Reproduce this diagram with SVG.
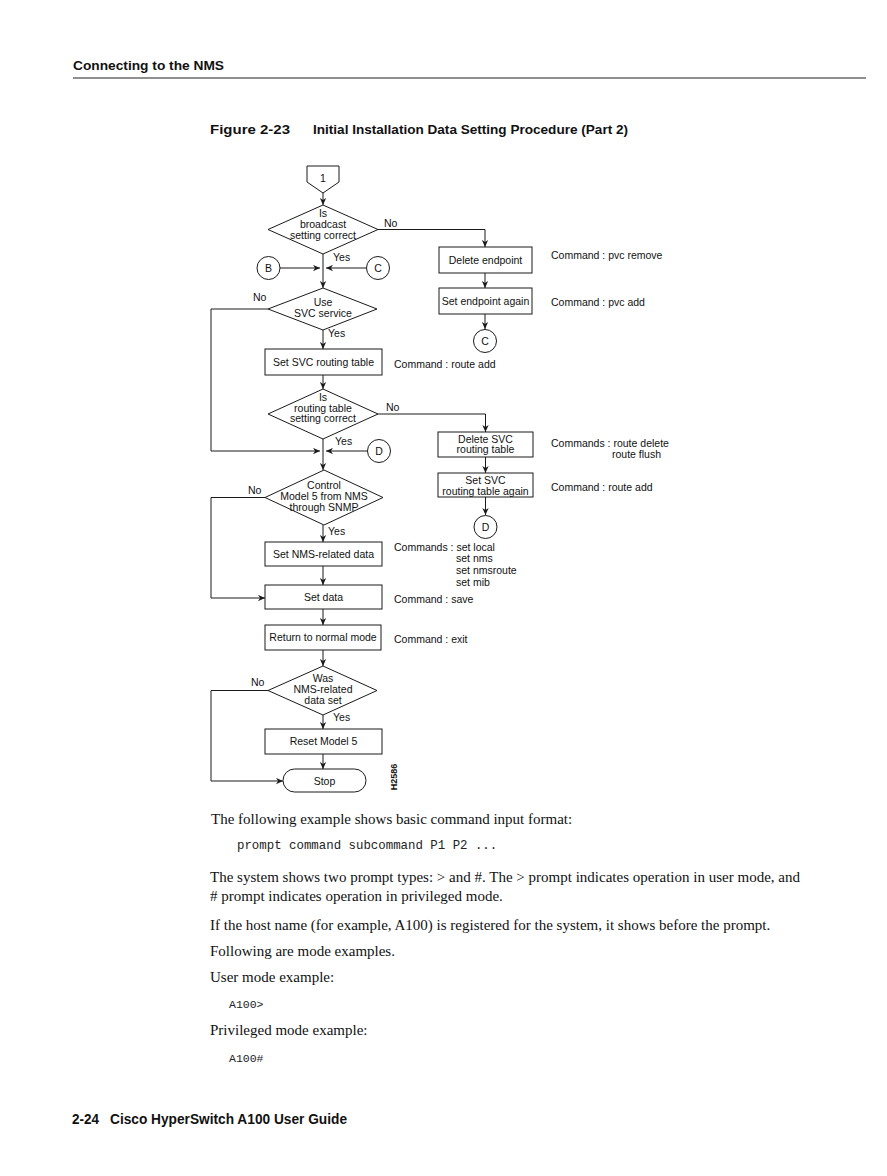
<svg xmlns="http://www.w3.org/2000/svg" width="887" height="1176" viewBox="0 0 887 1176">
<style>
.bg{fill:#ffffff}
.shape{fill:#ffffff;stroke:#1a1a1a;stroke-width:1}
.ln{fill:none;stroke:#1a1a1a;stroke-width:1}
.ft{font-family:"Liberation Sans",Arial,sans-serif;font-size:10.5px;fill:#111}
.c{text-anchor:middle}
.hd{font-family:"Liberation Sans",Arial,sans-serif;font-weight:bold;fill:#111}
.body{font-family:"Liberation Serif","Times New Roman",serif;font-size:15px;fill:#111}
.mono{font-family:"Liberation Mono","Courier New",monospace;fill:#222}
</style>
<defs>
<marker id="ah" viewBox="0 0 10 10" refX="10" refY="5" markerWidth="8" markerHeight="7" markerUnits="userSpaceOnUse" orient="auto">
<path d="M0,0.5 L10,5 L0,9.5 L3,5 Z" fill="#1a1a1a"/>
</marker>
</defs>
<rect class="bg" x="0" y="0" width="887" height="1176"/>

<g id="page-header">
<text class="hd" x="73" y="69.5" font-size="13.5" textLength="151" lengthAdjust="spacingAndGlyphs">Connecting to the NMS</text>
<line x1="73" y1="78" x2="866" y2="78" stroke="#222" stroke-width="1.2"/>
<text class="hd" x="210" y="134" font-size="13.5" textLength="80" lengthAdjust="spacingAndGlyphs">Figure 2-23</text>
<text class="hd" x="313" y="134" font-size="13.5" textLength="315" lengthAdjust="spacingAndGlyphs">Initial Installation Data Setting Procedure (Part 2)</text>
</g>

<g id="connectors">
<line class="ln" x1="323" y1="193" x2="323" y2="205" marker-end="url(#ah)"/>
<line class="ln" x1="323" y1="254" x2="323" y2="288" marker-end="url(#ah)"/>
<line class="ln" x1="280" y1="268" x2="320" y2="268" marker-end="url(#ah)"/>
<line class="ln" x1="366" y1="268" x2="326" y2="268" marker-end="url(#ah)"/>
<path class="ln" d="M378,229.5 H485 V247" marker-end="url(#ah)"/>
<line class="ln" x1="485" y1="273" x2="485" y2="288" marker-end="url(#ah)"/>
<line class="ln" x1="485" y1="314" x2="485" y2="329" marker-end="url(#ah)"/>
<line class="ln" x1="323" y1="330" x2="323" y2="349" marker-end="url(#ah)"/>
<path class="ln" d="M268,309 H211 V451 H320" marker-end="url(#ah)"/>
<line class="ln" x1="323" y1="375" x2="323" y2="389" marker-end="url(#ah)"/>
<line class="ln" x1="323" y1="439" x2="323" y2="470" marker-end="url(#ah)"/>
<line class="ln" x1="367" y1="451" x2="326" y2="451" marker-end="url(#ah)"/>
<path class="ln" d="M378,414 H485.5 V432" marker-end="url(#ah)"/>
<line class="ln" x1="485.5" y1="457" x2="485.5" y2="473" marker-end="url(#ah)"/>
<line class="ln" x1="485.5" y1="497" x2="485.5" y2="515" marker-end="url(#ah)"/>
<line class="ln" x1="323" y1="525" x2="323" y2="542" marker-end="url(#ah)"/>
<path class="ln" d="M265,497.5 H211 V598 H265" marker-end="url(#ah)"/>
<line class="ln" x1="323" y1="566" x2="323" y2="585" marker-end="url(#ah)"/>
<line class="ln" x1="323" y1="609" x2="323" y2="625" marker-end="url(#ah)"/>
<line class="ln" x1="323" y1="650" x2="323" y2="666" marker-end="url(#ah)"/>
<path class="ln" d="M268,690.5 H211 V781 H283" marker-end="url(#ah)"/>
<line class="ln" x1="323" y1="715" x2="323" y2="729" marker-end="url(#ah)"/>
<line class="ln" x1="323" y1="754" x2="323" y2="769" marker-end="url(#ah)"/>
</g>

<g id="edge-labels">
<text class="ft" x="384" y="227">No</text>
<text class="ft" x="333" y="261">Yes</text>
<text class="ft" x="253" y="301">No</text>
<text class="ft" x="328" y="337">Yes</text>
<text class="ft" x="386" y="411">No</text>
<text class="ft" x="335" y="445">Yes</text>
<text class="ft" x="248" y="494">No</text>
<text class="ft" x="328" y="535">Yes</text>
<text class="ft" x="251" y="686">No</text>
<text class="ft" x="333" y="721">Yes</text>
</g>

<g id="n-start1">
<path class="shape" d="M307,166 H339 V182 L323,193 L307,182 Z"/>
<text class="ft c" x="323" y="182">1</text>
</g>

<g id="n-broadcast">
<polygon class="shape" points="323,205 378,229.5 323,254 268,229.5"/>
<text class="ft c" x="323" y="217">Is</text>
<text class="ft c" x="323" y="228">broadcast</text>
<text class="ft c" x="323" y="239">setting correct</text>
</g>

<g id="n-B">
<circle class="shape" cx="268.5" cy="268" r="11.5"/>
<text class="ft c" x="268.5" y="272">B</text>
</g>
<g id="n-C-in">
<circle class="shape" cx="378" cy="268" r="11.5"/>
<text class="ft c" x="378" y="272">C</text>
</g>

<g id="n-delete-endpoint">
<rect class="shape" x="439" y="247" width="93" height="26"/>
<text class="ft c" x="485.5" y="264">Delete endpoint</text>
</g>
<g id="n-set-endpoint">
<rect class="shape" x="439" y="288" width="93" height="26"/>
<text class="ft c" x="485.5" y="305">Set endpoint again</text>
</g>
<g id="n-C-out">
<circle class="shape" cx="485" cy="341" r="11.5"/>
<text class="ft c" x="485" y="345">C</text>
</g>

<g id="n-use-svc">
<polygon class="shape" points="323,288 377,309 323,330 268,309"/>
<text class="ft c" x="323" y="306">Use</text>
<text class="ft c" x="323" y="317">SVC service</text>
</g>

<g id="n-set-svc-table">
<rect class="shape" x="265" y="349" width="117" height="26"/>
<text class="ft c" x="323.5" y="366">Set SVC routing table</text>
</g>

<g id="n-routing-correct">
<polygon class="shape" points="323,389 378,414 323,439 268,414"/>
<text class="ft c" x="323" y="401">Is</text>
<text class="ft c" x="323" y="412">routing table</text>
<text class="ft c" x="323" y="422">setting correct</text>
</g>

<g id="n-D-in">
<circle class="shape" cx="379" cy="451" r="11.5"/>
<text class="ft c" x="379" y="455">D</text>
</g>

<g id="n-delete-svc">
<rect class="shape" x="438" y="432" width="95" height="25"/>
<text class="ft c" x="485.5" y="443">Delete SVC</text>
<text class="ft c" x="485.5" y="453">routing table</text>
</g>
<g id="n-set-svc-again">
<rect class="shape" x="438" y="473" width="95" height="24"/>
<text class="ft c" x="485.5" y="484">Set SVC</text>
<text class="ft c" x="485.5" y="494.5">routing table again</text>
</g>
<g id="n-D-out">
<circle class="shape" cx="485.5" cy="527" r="11.5"/>
<text class="ft c" x="485.5" y="531">D</text>
</g>

<g id="n-control-nms">
<polygon class="shape" points="324,470 383,497.5 324,525 265,497.5"/>
<text class="ft c" x="324" y="489">Control</text>
<text class="ft c" x="324" y="500">Model 5 from NMS</text>
<text class="ft c" x="324" y="511">through SNMP</text>
</g>

<g id="n-set-nms-data">
<rect class="shape" x="265" y="542" width="117" height="24"/>
<text class="ft c" x="323.5" y="558">Set NMS-related data</text>
</g>
<g id="n-set-data">
<rect class="shape" x="265" y="585" width="117" height="24"/>
<text class="ft c" x="323.5" y="601">Set data</text>
</g>
<g id="n-return-normal">
<rect class="shape" x="265" y="625" width="116" height="25"/>
<text class="ft c" x="323" y="641">Return to normal mode</text>
</g>

<g id="n-was-nms">
<polygon class="shape" points="323,666 377,690.5 323,715 268,690.5"/>
<text class="ft c" x="323" y="682">Was</text>
<text class="ft c" x="323" y="693">NMS-related</text>
<text class="ft c" x="323" y="704">data set</text>
</g>

<g id="n-reset">
<rect class="shape" x="265" y="729" width="117" height="25"/>
<text class="ft c" x="323.5" y="745">Reset Model 5</text>
</g>

<g id="n-stop">
<rect class="shape" x="283" y="769" width="83" height="23" rx="11.5" ry="11.5"/>
<text class="ft c" x="324.5" y="785">Stop</text>
</g>

<g id="annotations">
<text class="ft" x="551" y="259">Command : pvc remove</text>
<text class="ft" x="551" y="306">Command : pvc add</text>
<text class="ft" x="394" y="368">Command : route add</text>
<text class="ft" x="551" y="447">Commands : route delete</text>
<text class="ft" x="612" y="458">route flush</text>
<text class="ft" x="551" y="491">Command : route add</text>
<text class="ft" x="394" y="551">Commands : set local</text>
<text class="ft" x="456" y="562">set nms</text>
<text class="ft" x="456" y="574">set nmsroute</text>
<text class="ft" x="456" y="586">set mib</text>
<text class="ft" x="394" y="603">Command : save</text>
<text class="ft" x="394" y="643">Command : exit</text>
<text class="hd" x="396.5" y="777" font-size="9" text-anchor="middle" transform="rotate(-90 396.5 777)">H2586</text>
</g>

<g id="body-text">
<text class="body" x="211" y="824">The following example shows basic command input format:</text>
<text class="mono" x="237" y="849" font-size="12.4">prompt command subcommand P1 P2 ...</text>
<text class="body" x="210" y="882" textLength="590" lengthAdjust="spacing">The system shows two prompt types: &gt; and #. The &gt; prompt indicates operation in user mode, and</text>
<text class="body" x="210" y="901">&#35; prompt indicates operation in privileged mode.</text>
<text class="body" x="210" y="930">If the host name (for example, A100) is registered for the system, it shows before the prompt.</text>
<text class="body" x="210" y="956">Following are mode examples.</text>
<text class="body" x="210" y="982">User mode example:</text>
<text class="mono" x="229" y="1008" font-size="11.5">A100&gt;</text>
<text class="body" x="210" y="1035">Privileged mode example:</text>
<text class="mono" x="229" y="1062" font-size="11.5">A100#</text>
</g>

<g id="page-footer">
<text class="hd" x="72" y="1124" font-size="14" textLength="27" lengthAdjust="spacingAndGlyphs">2-24</text>
<text class="hd" x="110" y="1124" font-size="14" textLength="237" lengthAdjust="spacingAndGlyphs">Cisco HyperSwitch A100 User Guide</text>
</g>
</svg>
